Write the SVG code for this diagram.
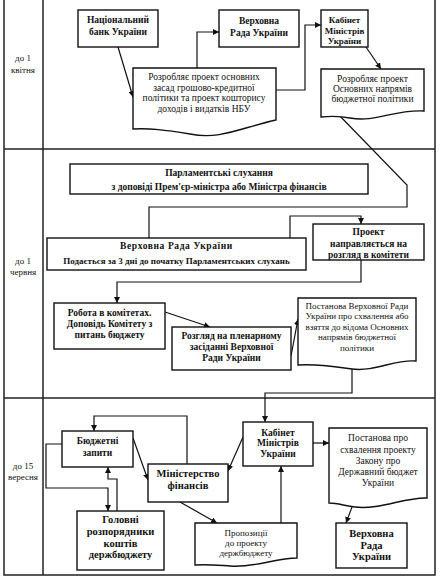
<svg xmlns="http://www.w3.org/2000/svg" width="444" height="581" viewBox="0 0 444 581">
<style>
.b{font-family:"Liberation Serif","Times New Roman",serif;font-weight:bold;font-size:9.5px;text-anchor:middle;fill:#111}
.r{font-family:"Liberation Serif","Times New Roman",serif;font-size:9.5px;text-anchor:middle;fill:#111}
.s{font-size:9px}
.L{font-size:10.5px}
.box{fill:#fff;stroke:#111;stroke-width:1.4}
.ln{fill:none;stroke:#111;stroke-width:1.2}
.fr{fill:none;stroke:#222;stroke-width:1.5}
</style>
<defs>
<marker id="a" viewBox="0 0 10 10" refX="10" refY="5" markerWidth="6" markerHeight="6" markerUnits="userSpaceOnUse" orient="auto">
<path d="M0,0 L10,5 L0,10 z" fill="#111"/>
</marker>
</defs>
<rect width="444" height="581" fill="#fff"/>
<g id="frame">
<path class="fr" d="M4,0 V575 H435 V0"/>
<path class="fr" d="M43,0 V575"/>
<path class="fr" d="M4,149 H435"/>
<path class="fr" d="M4,398 H435"/>
<text class="r s" x="23" y="61">до 1</text>
<text class="r s" x="23" y="73">квітня</text>
<text class="r s" x="23" y="264">до 1</text>
<text class="r s" x="23" y="275">червня</text>
<text class="r s" x="23" y="469">до 15</text>
<text class="r s" x="23" y="480">вересня</text>
</g>
<g id="connectors">
<path class="ln" d="M118,47 L133,97" marker-end="url(#a)"/>
<path class="ln" d="M197,68 V32 H219" marker-end="url(#a)"/>
<path class="ln" d="M275,90 H305 V25 H321" marker-end="url(#a)"/>
<path class="ln" d="M366,47 L381,69" marker-end="url(#a)"/>
<path class="ln" d="M337,113 L407,185 V207 H149 V238"/>
<path class="ln" d="M290,238 V216 H361 V224" marker-end="url(#a)"/>
<path class="ln" d="M361,260 V282 H117 V303" marker-end="url(#a)"/>
<path class="ln" d="M165,312 L210,327" marker-end="url(#a)"/>
<path class="ln" d="M291,356 L298,319" marker-end="url(#a)"/>
<path class="ln" d="M352,369 V393 H265 V422" marker-end="url(#a)"/>
<path class="ln" d="M313,443 H329" marker-end="url(#a)"/>
<path class="ln" d="M352,507 L346,523" marker-end="url(#a)"/>
<path class="ln" d="M281,523 V466" marker-end="url(#a)"/>
<path class="ln" d="M243,437 L228,471" marker-end="url(#a)"/>
<path class="ln" d="M180,502 L217,523" marker-end="url(#a)"/>
<path class="ln" d="M187,464 V416 H94 V431" marker-end="url(#a)"/>
<path class="ln" d="M133,438 L148,480" marker-end="url(#a)"/>
<path class="ln" d="M62,444 H46 V488 H108 V511" marker-end="url(#a)"/>
<path class="ln" d="M117,511 V479 H108 V467" marker-end="url(#a)"/>
</g>
<g id="nbu">
<rect class="box" x="78" y="10" width="80" height="37"/>
<text class="b" x="118" y="23">Національний</text>
<text class="b" x="118" y="35">банк України</text>
</g>
<g id="vru1">
<rect class="box" x="219" y="10" width="80" height="37"/>
<text class="b" x="259" y="24">Верховна</text>
<text class="b" x="259" y="36">Рада України</text>
</g>
<g id="kmu1">
<rect class="box" x="321" y="10" width="47" height="37"/>
<text class="b s" x="344.5" y="23">Кабінет</text>
<text class="b s" x="344.5" y="33.5">Міністрів</text>
<text class="b s" x="344.5" y="44">України</text>
</g>
<g id="doc-nbu">
<path class="box" d="M133,68 H276 V120 C240,128 220,140 190,134 C165,130 150,128 133,129 Z"/>
<text class="r" x="204" y="80">Розробляє проект основних</text>
<text class="r" x="204" y="90.5">засад грошово-кредитної</text>
<text class="r" x="204" y="101">політики та проект кошторису</text>
<text class="r" x="204" y="111.5">доходів і видатків НБУ</text>
</g>
<g id="doc-kmu1">
<path class="box" d="M321,69 H424 V111 C395,109 375,123 350,118 C340,116 330,116 321,117 Z"/>
<text class="r" x="372.5" y="82">Розробляє проект</text>
<text class="r" x="372.5" y="92">Основних напрямів</text>
<text class="r" x="372.5" y="102">бюджетної політики</text>
</g>
<g id="hearings">
<rect class="box" x="70" y="164" width="298" height="30"/>
<text class="b" x="219" y="176">Парламентські слухання</text>
<text class="b" x="219" y="190">з доповіді Прем'єр-міністра або Міністра фінансів</text>
</g>
<g id="vru2">
<rect class="box" x="47" y="238" width="259" height="32"/>
<text class="b" x="176.5" y="249" letter-spacing="0.6">Верховна Рада України</text>
<text class="b s" x="176.5" y="264">Подається за 3 дні до початку Парламентських слухань</text>
</g>
<g id="project">
<rect class="box" x="313" y="224" width="111" height="36"/>
<text class="b" x="368.5" y="235">Проект</text>
<text class="b" x="368.5" y="246.5">направляється на</text>
<text class="b" x="368.5" y="257.5">розгляд в комітети</text>
</g>
<g id="committees">
<rect class="box" x="54" y="303" width="111" height="46"/>
<text class="b" x="109.5" y="316">Робота в комітетах.</text>
<text class="b" x="109.5" y="327">Доповідь Комітету з</text>
<text class="b" x="109.5" y="338">питань бюджету</text>
</g>
<g id="plenary">
<rect class="box" x="172" y="327" width="119" height="43"/>
<text class="b" x="231.5" y="339">Розгляд на пленарному</text>
<text class="b" x="231.5" y="350">засіданні Верховної</text>
<text class="b" x="231.5" y="361">Ради України</text>
</g>
<g id="doc-resolution1">
<path class="box" d="M298,298 H416 V361 C395,359 375,372 352,369 C330,366 315,364 298,365 Z"/>
<text class="r s" x="357" y="308.5">Постанова Верховної Ради</text>
<text class="r s" x="357" y="319">України про схвалення або</text>
<text class="r s" x="357" y="329.5">взяття до відома Основних</text>
<text class="r s" x="357" y="340">напрямів бюджетної</text>
<text class="r s" x="357" y="350.5">політики</text>
</g>
<g id="kmu3">
<rect class="box" x="243" y="422" width="70" height="44"/>
<text class="b" x="278" y="436">Кабінет</text>
<text class="b" x="278" y="446">Міністрів</text>
<text class="b" x="278" y="457">України</text>
</g>
<g id="doc-resolution2">
<path class="box" d="M329,428 H427 V498 C405,497 380,510 355,507 C345,506 338,503 329,503 Z"/>
<text class="r" x="378" y="441">Постанова про</text>
<text class="r" x="378" y="452.5">схвалення проекту</text>
<text class="r" x="378" y="464">Закону про</text>
<text class="r" x="378" y="475">Державний бюджет</text>
<text class="r" x="378" y="486">України</text>
</g>
<g id="vru3">
<rect class="box" x="336" y="523" width="71" height="45"/>
<text class="b L" x="371.5" y="537">Верховна</text>
<text class="b L" x="371.5" y="548.5">Рада</text>
<text class="b L" x="371.5" y="560">України</text>
</g>
<g id="doc-proposals">
<path class="box" d="M195,523 H297 V558 C275,558 255,568 230,566 C215,565 205,564 195,565 Z"/>
<text class="r s" x="246" y="536">Пропозиції</text>
<text class="r s" x="246" y="546">до проекту</text>
<text class="r s" x="246" y="556">держбюджету</text>
</g>
<g id="minfin">
<rect class="box" x="148" y="464" width="80" height="38"/>
<text class="b L" x="188" y="477">Міністерство</text>
<text class="b L" x="188" y="489">фінансів</text>
</g>
<g id="requests">
<rect class="box" x="62" y="431" width="71" height="36"/>
<text class="b" x="97.5" y="444">Бюджетні</text>
<text class="b" x="97.5" y="456">запити</text>
</g>
<g id="managers">
<rect class="box" x="77" y="511" width="87" height="59"/>
<text class="b L" x="120.5" y="523">Головні</text>
<text class="b L" x="120.5" y="535">розпорядники</text>
<text class="b L" x="120.5" y="546.5">коштів</text>
<text class="b L" x="120.5" y="558">держбюджету</text>
</g>
</svg>
